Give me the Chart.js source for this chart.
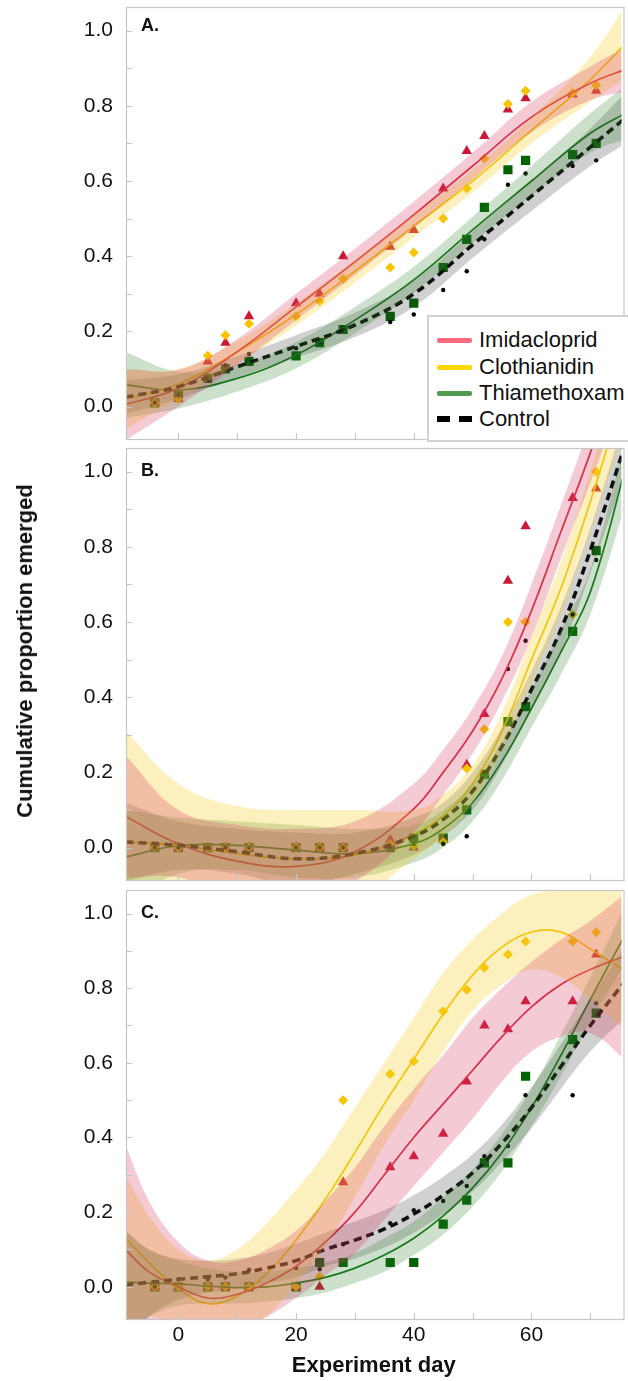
<!DOCTYPE html>
<html>
<head>
<meta charset="utf-8">
<script src="https://cdn.jsdelivr.net/npm/chart.js@4.4.1/dist/chart.umd.min.js"></script>
<style>
  html, body { margin: 0; padding: 0; background: #fff; }
  body { width: 628px; height: 1381px; position: relative; overflow: hidden; font-family: "Liberation Sans", Arial, sans-serif; color: #111; }
  canvas { position: absolute; left: 0; }
  .tag { position: absolute; left: 141px; font-weight: bold; font-size: 18px; line-height: 20px; }
  #ytitle { position: absolute; left: 25px; top: 651px; transform: translate(-50%, -50%) rotate(-90deg); font-weight: bold; font-size: 22px; white-space: nowrap; }
  #legend { position: absolute; left: 427px; top: 315px; width: 215px; height: 123px; background: #fff; border: 2px solid #d2d2d2; z-index: 5; }
  #legend .row { position: absolute; left: 0; height: 26px; width: 100%; }
  #legend .sw { position: absolute; left: 8px; top: 11px; width: 35px; height: 5px; border-radius: 2px; }
  #legend .sw.dash { height: 6px; top: 10px; border-radius: 0; background: repeating-linear-gradient(to right, #000 0 13px, transparent 13px 22px); }
  #legend .lb { position: absolute; left: 50px; top: 0; font-size: 22px; line-height: 26px; white-space: nowrap; }
</style>
</head>
<body>
<canvas id="chartA" width="628" height="448" style="top:0px"></canvas>
<canvas id="chartB" width="628" height="448" style="top:441px"></canvas>
<canvas id="chartC" width="628" height="498" style="top:883px"></canvas>
<div class="tag" style="top:15px">A.</div>
<div class="tag" style="top:460px">B.</div>
<div class="tag" style="top:902px">C.</div>
<div id="ytitle">Cumulative proportion emerged</div>
<div id="legend"></div>
<script>
// --- data ---
const seriesNames = ['Imidacloprid', 'Clothianidin', 'Thiamethoxam', 'Control'];
const days = [-4, 0, 5, 8, 12, 20, 24, 28, 36, 40, 45, 49, 52, 56, 59, 67, 71];
const xTickLabels = [0, 20, 40, 60];
const yTickLabels = [0, 0.2, 0.4, 0.6, 0.8, 1.0];

// panel A observed
const imidaA = [0.01, 0.02, 0.12, 0.17, 0.24, 0.275, 0.30, 0.40, 0.425, 0.47, 0.58, 0.68, 0.72, 0.79, 0.82, 0.83, 0.84];
const clothA = [0.01, 0.02, 0.135, 0.19, 0.22, 0.24, 0.28, 0.34, 0.37, 0.41, 0.50, 0.58, 0.66, 0.805, 0.84, 0.835, 0.855];
const thiaA  = [0.01, 0.03, 0.075, 0.10, 0.12, 0.135, 0.17, 0.205, 0.24, 0.275, 0.37, 0.445, 0.53, 0.63, 0.655, 0.67, 0.70];
const ctrlA  = [0.01, 0.03, 0.07, 0.11, 0.14, 0.155, 0.17, 0.21, 0.225, 0.245, 0.31, 0.36, 0.445, 0.59, 0.62, 0.64, 0.655];
// panel A fitted curves and bands
const gridA = [-9, 0, 10, 20, 30, 40, 50, 60, 70, 76.5];
const imidaFitA = [0.005, 0.049, 0.146, 0.265, 0.385, 0.51, 0.64, 0.77, 0.86, 0.90];
const imidaLoA  = [-0.09, 0.0, 0.11, 0.23, 0.35, 0.475, 0.605, 0.73, 0.815, 0.84];
const imidaHiA  = [0.10, 0.098, 0.18, 0.30, 0.42, 0.545, 0.675, 0.81, 0.905, 0.96];
const clothFitA = [0.02, 0.06, 0.145, 0.245, 0.36, 0.48, 0.60, 0.735, 0.87, 0.975];
const clothLoA  = [-0.06, 0.02, 0.115, 0.215, 0.33, 0.45, 0.57, 0.70, 0.81, 0.88];
const clothHiA  = [0.10, 0.10, 0.175, 0.275, 0.39, 0.51, 0.63, 0.77, 0.93, 1.08];
const thiaFitA  = [0.058, 0.044, 0.075, 0.137, 0.23, 0.337, 0.47, 0.60, 0.727, 0.785];
const thiaLoA   = [-0.03, -0.005, 0.04, 0.102, 0.195, 0.302, 0.435, 0.56, 0.675, 0.715];
const thiaHiA   = [0.145, 0.093, 0.11, 0.172, 0.265, 0.372, 0.505, 0.64, 0.78, 0.86];
const ctrlFitA  = [0.025, 0.053, 0.106, 0.16, 0.217, 0.30, 0.43, 0.56, 0.69, 0.775];
const ctrlLoA   = [-0.02, 0.02, 0.078, 0.13, 0.185, 0.265, 0.395, 0.52, 0.64, 0.705];
const ctrlHiA   = [0.07, 0.086, 0.134, 0.19, 0.25, 0.335, 0.465, 0.60, 0.74, 0.845];

// panel B observed
const imidaB = [0, 0, 0, 0, 0, 0, 0, 0, 0.02, 0.0, 0.02, 0.22, 0.355, 0.71, 0.855, 0.93, 0.955];
const clothB = [0, 0, 0, 0, 0, 0, 0, 0, 0.01, 0.005, 0.015, 0.21, 0.315, 0.60, 0.60, 0.62, 1.0];
const thiaB  = [0, 0, 0, 0, 0, 0, 0, 0, 0, 0.025, 0.025, 0.10, 0.195, 0.335, 0.375, 0.575, 0.79];
const ctrlB  = [0, 0, 0, 0, 0, 0, 0, 0, 0, 0.01, 0.01, 0.03, 0.2, 0.475, 0.55, 0.62, 0.765];
// panel B fitted curves and bands
const gridB = [-9, 0, 10, 20, 30, 40, 45, 50, 55, 60, 65, 70, 76.5];
const imidaFitB = [0.083, 0.01, -0.036, -0.05, -0.011, 0.103, 0.20, 0.31, 0.45, 0.63, 0.84, 1.05, 1.35];
const imidaLoB  = [-0.08, -0.08, -0.13, -0.15, -0.09, 0.04, 0.14, 0.25, 0.39, 0.56, 0.77, 0.97, 1.25];
const imidaHiB  = [0.245, 0.10, 0.06, 0.05, 0.07, 0.17, 0.26, 0.37, 0.51, 0.70, 0.91, 1.13, 1.45];
const clothFitB = [0.015, 0.006, -0.016, -0.03, -0.02, 0.035, 0.085, 0.17, 0.31, 0.50, 0.69, 0.92, 1.25];
const clothLoB  = [-0.28, -0.16, -0.14, -0.16, -0.14, -0.03, 0.03, 0.12, 0.26, 0.44, 0.62, 0.84, 1.15];
const clothHiB  = [0.31, 0.17, 0.11, 0.10, 0.10, 0.10, 0.14, 0.22, 0.36, 0.56, 0.76, 1.0, 1.35];
const thiaFitB  = [-0.025, 0.005, 0.006, -0.007, -0.016, 0.01, 0.05, 0.12, 0.23, 0.37, 0.52, 0.68, 1.04];
const thiaLoB   = [-0.15, -0.07, -0.06, -0.08, -0.08, -0.04, 0.0, 0.07, 0.18, 0.32, 0.46, 0.62, 0.94];
const thiaHiB   = [0.10, 0.08, 0.07, 0.06, 0.05, 0.06, 0.10, 0.17, 0.28, 0.42, 0.58, 0.74, 1.12];
const ctrlFitB  = [0.015, 0.006, -0.011, -0.03, -0.016, 0.03, 0.075, 0.15, 0.27, 0.42, 0.58, 0.79, 1.1];
const ctrlLoB   = [-0.09, -0.06, -0.07, -0.10, -0.07, -0.02, 0.03, 0.10, 0.22, 0.37, 0.52, 0.73, 1.02];
const ctrlHiB   = [0.12, 0.07, 0.05, 0.04, 0.04, 0.08, 0.12, 0.20, 0.32, 0.47, 0.64, 0.85, 1.18];

// panel C observed
const imidaC = [0, 0, 0, 0, 0, 0, 0, 0.28, 0.32, 0.35, 0.41, 0.55, 0.70, 0.69, 0.765, 0.765, 0.89];
const clothC = [0, 0, 0, 0, 0, 0, 0.027, 0.50, 0.57, 0.604, 0.738, 0.796, 0.855, 0.89, 0.925, 0.925, 0.95];
const thiaC  = [0, 0, 0, 0, 0, 0, 0.065, 0.065, 0.065, 0.065, 0.168, 0.232, 0.332, 0.332, 0.564, 0.662, 0.733];
const ctrlC  = [0.0, 0.02, 0.02, 0.025, 0.045, 0.05, 0.047, 0.114, 0.17, 0.205, 0.23, 0.27, 0.35, 0.377, 0.513, 0.513, 0.76];
// panel C fitted curves and bands
const gridC = [-9, -5, 0, 5, 10, 15, 20, 25, 30, 35, 40, 45, 50, 55, 60, 65, 70, 76.5];
const imidaFitC = [0.10, 0.04, 0.0, -0.03, -0.02, 0.01, 0.055, 0.12, 0.20, 0.30, 0.40, 0.49, 0.58, 0.67, 0.75, 0.81, 0.85, 0.89];
const imidaLoC  = [-0.18, -0.15, -0.12, -0.13, -0.11, -0.08, -0.03, 0.03, 0.09, 0.18, 0.27, 0.36, 0.45, 0.55, 0.63, 0.67, 0.68, 0.60];
const imidaHiC  = [0.38, 0.23, 0.12, 0.07, 0.07, 0.10, 0.15, 0.23, 0.32, 0.43, 0.53, 0.62, 0.72, 0.80, 0.87, 0.93, 0.98, 1.06];
const clothFitC = [0.13, 0.065, -0.005, -0.045, -0.025, 0.035, 0.125, 0.235, 0.36, 0.49, 0.61, 0.73, 0.835, 0.91, 0.95, 0.95, 0.905, 0.84];
const clothLoC  = [-0.12, -0.08, -0.11, -0.15, -0.13, -0.08, 0.01, 0.11, 0.24, 0.38, 0.50, 0.63, 0.74, 0.81, 0.85, 0.83, 0.77, 0.68];
const clothHiC  = [0.30, 0.19, 0.10, 0.07, 0.10, 0.17, 0.26, 0.36, 0.48, 0.60, 0.72, 0.84, 0.93, 1.0, 1.05, 1.06, 1.06, 1.06];
const thiaFitC  = [0.013, 0.01, 0.008, 0.002, -0.002, 0.0, 0.01, 0.025, 0.05, 0.085, 0.13, 0.19, 0.265, 0.36, 0.48, 0.62, 0.77, 0.96];
const thiaLoC   = [-0.12, -0.08, -0.05, -0.045, -0.045, -0.04, -0.03, -0.015, 0.01, 0.04, 0.085, 0.14, 0.215, 0.31, 0.43, 0.565, 0.71, 0.88];
const thiaHiC   = [0.15, 0.10, 0.07, 0.05, 0.04, 0.04, 0.05, 0.065, 0.09, 0.13, 0.175, 0.24, 0.315, 0.41, 0.53, 0.675, 0.83, 1.04];
const ctrlFitC  = [0.005, 0.012, 0.02, 0.027, 0.035, 0.05, 0.07, 0.10, 0.125, 0.155, 0.195, 0.245, 0.305, 0.385, 0.48, 0.59, 0.70, 0.83];
const ctrlLoC   = [-0.14, -0.08, -0.035, -0.015, -0.005, 0.01, 0.025, 0.055, 0.075, 0.105, 0.145, 0.195, 0.255, 0.335, 0.425, 0.53, 0.63, 0.73];
const ctrlHiC   = [0.15, 0.10, 0.075, 0.07, 0.075, 0.09, 0.115, 0.145, 0.175, 0.205, 0.245, 0.295, 0.355, 0.435, 0.535, 0.65, 0.77, 0.93];

// --- styling ---
const lineColors   = ['rgb(214,46,70)', 'rgb(240,196,0)', 'rgb(22,118,22)', '#000'];
const bandColors   = ['rgba(214,60,95,0.27)', 'rgba(246,204,40,0.3)', 'rgba(40,125,40,0.24)', 'rgba(60,60,60,0.24)'];
const markerColors = ['rgb(203,24,56)', 'rgb(246,196,0)', 'rgb(0,98,0)', '#000'];
const legendColors = ['rgb(250,105,125)', 'rgb(255,215,0)', 'rgb(80,155,80)', '#000'];
const markerStyles = ['triangle', 'rectRot', 'rect', 'circle'];
const markerRadius = [6, 5, 6.5, 2.2];
const X_MIN = -8.9, X_MAX = 75.3, Y_MIN = -0.089, Y_MAX = 1.063;
const FONT = '"Liberation Sans", Arial, sans-serif';

function xy(xs, ys) {
    return xs.map((x, i) => ({ x: x, y: ys[i] }));
}

// frame + inward tick marks, drawn from the chart's own scales
const framePlugin = {
    id: 'frame',
    afterDatasetsDraw(chart) {
        const { ctx, chartArea: a } = chart;
        const xs = chart.scales.x, ys = chart.scales.y;
        ctx.save();
        ctx.strokeStyle = '#c6c6c6';
        ctx.lineWidth = 1.2;
        ctx.strokeRect(a.left + 0.5, a.top + 0.5, a.right - a.left + 2, a.bottom - a.top - 1);
        ctx.beginPath();
        ys.ticks.forEach(t => {
            const py = Math.round(ys.getPixelForValue(t.value)) + 0.5;
            ctx.moveTo(a.left, py);
            ctx.lineTo(a.left + 6, py);
        });
        xs.ticks.forEach(t => {
            const px = Math.round(xs.getPixelForValue(t.value)) + 0.5;
            ctx.moveTo(px, a.bottom);
            ctx.lineTo(px, a.bottom - 7);
        });
        ctx.stroke();
        ctx.restore();
    }
};

function makePanel(id, grid, fits, los, his, obs, bottomH, showX) {
    const datasets = [];
    // bands go first so they are painted over the lines and markers
    for (let s = 0; s < 4; s++) {
        datasets.push({
            data: xy(grid, his[s]), fill: '+1', backgroundColor: bandColors[s],
            borderColor: 'transparent', borderWidth: 0, pointRadius: 0, tension: 0.4
        });
        datasets.push({
            data: xy(grid, los[s]), fill: false, borderColor: 'transparent',
            borderWidth: 0, pointRadius: 0, tension: 0.4
        });
    }
    [3, 0, 1, 2].forEach(s => {
        datasets.push({
            data: xy(grid, fits[s]), fill: false, borderColor: lineColors[s],
            borderWidth: s === 3 ? 3.6 : 1.7, borderDash: s === 3 ? [8, 5] : [],
            pointRadius: 0, tension: 0.4
        });
    });
    [3, 1, 0, 2].forEach(s => {
        datasets.push({
            data: xy(days, obs[s]), showLine: false, fill: false,
            pointStyle: markerStyles[s], pointRadius: markerRadius[s],
            pointBackgroundColor: markerColors[s], pointBorderWidth: 0, pointBorderColor: 'transparent'
        });
    });

    return new Chart(document.getElementById(id), {
        type: 'line',
        data: { datasets: datasets },
        options: {
            responsive: false,
            animation: false,
            layout: { padding: { top: 7, left: 0, right: 0, bottom: 0 } },
            plugins: { legend: { display: false }, tooltip: { enabled: false } },
            scales: {
                x: {
                    type: 'linear', min: X_MIN, max: X_MAX,
                    afterFit: sc => {
                        sc.height = bottomH;
                        sc.paddingLeft = 0; sc.paddingRight = 0;
                    },
                    grid: { display: false, drawTicks: false },
                    border: { display: false },
                    ticks: {
                        display: showX, stepSize: 10, includeBounds: false, autoSkip: false, maxRotation: 0,
                        padding: 3, color: '#111', font: { family: FONT, size: 21 },
                        callback: v => xTickLabels.includes(v) ? String(v) : ''
                    },
                    title: {
                        display: showX, text: 'Experiment day', color: '#111',
                        font: { family: FONT, size: 22, weight: 'bold' }, padding: { top: 0, bottom: 2 }
                    }
                },
                y: {
                    type: 'linear', min: Y_MIN, max: Y_MAX,
                    afterFit: sc => {
                        sc.width = 126;
                        sc.paddingTop = 0; sc.paddingBottom = 0;
                    },
                    grid: { display: false, drawTicks: false },
                    border: { display: false },
                    ticks: {
                        stepSize: 0.1, includeBounds: false, padding: 13, color: '#111',
                        font: { family: FONT, size: 21 },
                        callback: v => yTickLabels.some(t => Math.abs(t - v) < 1e-6) ? v.toFixed(1) : ''
                    }
                }
            }
        },
        plugins: [framePlugin]
    });
}

makePanel('chartA', gridA,
    [imidaFitA, clothFitA, thiaFitA, ctrlFitA], [imidaLoA, clothLoA, thiaLoA, ctrlLoA],
    [imidaHiA, clothHiA, thiaHiA, ctrlHiA], [imidaA, clothA, thiaA, ctrlA], 8, false);
makePanel('chartB', gridB,
    [imidaFitB, clothFitB, thiaFitB, ctrlFitB], [imidaLoB, clothLoB, thiaLoB, ctrlLoB],
    [imidaHiB, clothHiB, thiaHiB, ctrlHiB], [imidaB, clothB, thiaB, ctrlB], 8, false);
makePanel('chartC', gridC,
    [imidaFitC, clothFitC, thiaFitC, ctrlFitC], [imidaLoC, clothLoC, thiaLoC, ctrlLoC],
    [imidaHiC, clothHiC, thiaHiC, ctrlHiC], [imidaC, clothC, thiaC, ctrlC], 61, true);

// legend inside panel A
const legend = document.getElementById('legend');
const rowCenters = [23, 50, 76, 102];
seriesNames.forEach((name, i) => {
    const row = document.createElement('div');
    row.className = 'row';
    row.style.top = (rowCenters[i] - 13) + 'px';
    const sw = document.createElement('span');
    sw.className = i === 3 ? 'sw dash' : 'sw';
    if (i !== 3) sw.style.background = legendColors[i];
    const lb = document.createElement('span');
    lb.className = 'lb';
    lb.textContent = name;
    row.appendChild(sw);
    row.appendChild(lb);
    legend.appendChild(row);
});
</script>
</body>
</html>
